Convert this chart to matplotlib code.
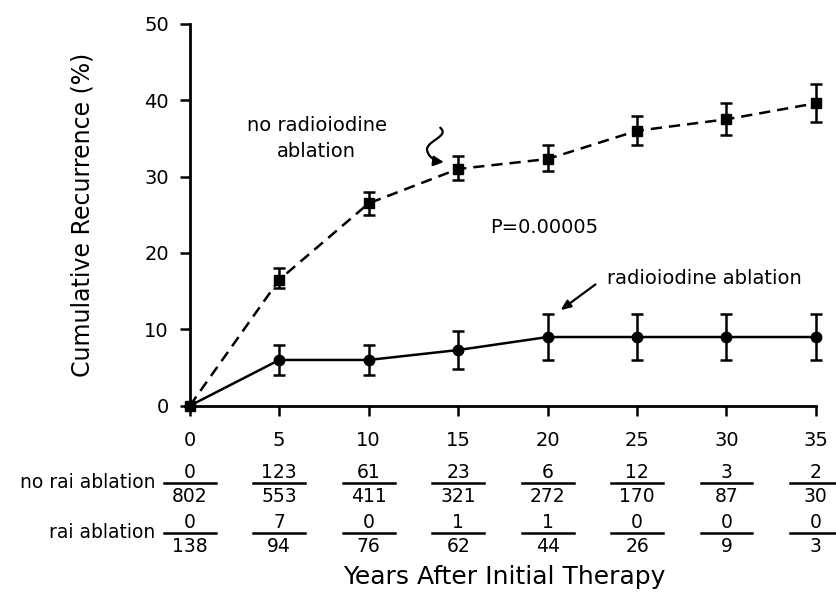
import matplotlib.pyplot as plt
from matplotlib.path import Path
from matplotlib.patches import FancyArrowPatch
from matplotlib.transforms import blended_transform_factory

years = [0, 5, 10, 15, 20, 25, 30, 35]

no_rai = [0, 16.5, 26.5, 31.0, 32.3, 36.0, 37.5, 39.6]
no_rai_lo = [0, 15.4, 25.0, 29.5, 30.7, 34.2, 35.5, 37.2]
no_rai_hi = [0, 18.0, 28.0, 32.7, 34.1, 37.9, 39.6, 42.1]

rai = [0, 6.0, 6.0, 7.3, 9.0, 9.0, 9.0, 9.0]
rai_lo = [0, 4.0, 4.0, 4.8, 6.0, 6.0, 6.0, 6.0]
rai_hi = [0, 8.0, 8.0, 9.8, 12.0, 12.0, 12.0, 12.0]

no_rai_events = ['0', '123', '61', '23', '6', '12', '3', '2']
no_rai_risk = ['802', '553', '411', '321', '272', '170', '87', '30']
rai_events = ['0', '7', '0', '1', '1', '0', '0', '0']
rai_risk = ['138', '94', '76', '62', '44', '26', '9', '3']

plt.rcParams['font.family'] = ['DejaVu Sans']

fig = plt.figure(figsize=(8.36, 5.95), dpi=100)
ax = fig.add_axes([0.227, 0.318, 0.749, 0.642])

err_no = [[v - l for v, l in zip(no_rai, no_rai_lo)], [h - v for v, h in zip(no_rai, no_rai_hi)]]
err_rai = [[v - l for v, l in zip(rai, rai_lo)], [h - v for v, h in zip(rai, rai_hi)]]
err_no[0][0] = err_no[1][0] = 0
err_rai[0][0] = err_rai[1][0] = 0

ax.errorbar(years, no_rai, yerr=err_no, color='black', linestyle=(0, (4.5, 2.8)), lw=1.8,
            marker='s', markersize=7.5, capsize=4, capthick=1.8, elinewidth=1.8, clip_on=False, zorder=3)
ax.errorbar(years, rai, yerr=err_rai, color='black', linestyle='-', lw=1.8,
            marker='o', markersize=7.5, capsize=4, capthick=1.8, elinewidth=1.8, clip_on=False, zorder=3)

ax.set_xlim(0, 35)
ax.set_ylim(0, 50)
ax.set_xticks(years)
ax.set_yticks([0, 10, 20, 30, 40, 50])
ax.spines['top'].set_visible(False)
ax.spines['right'].set_visible(False)
ax.spines['left'].set_linewidth(2)
ax.spines['bottom'].set_linewidth(2)
ax.tick_params(axis='both', length=7, width=1.8, labelsize=14)
ax.tick_params(axis='x', pad=11)
ax.tick_params(axis='y', pad=8)
ax.set_ylabel('Cumulative Recurrence (%)', fontsize=17, labelpad=36)

ax.text(7.1, 35.0, 'no radioiodine\nablation', ha='center', va='center', fontsize=14, linespacing=1.45)
ax.text(16.8, 23.3, 'P=0.00005', ha='left', va='center', fontsize=14)
ax.text(23.3, 16.6, 'radioiodine ablation', ha='left', va='center', fontsize=14)

# squiggly arrow
sq = Path([(14.0, 36.4), (14.6, 35.2), (13.0, 34.6), (13.3, 33.2), (13.4, 32.4), (13.8, 32.0), (14.2, 31.9)],
          [Path.MOVETO, Path.CURVE4, Path.CURVE4, Path.CURVE4, Path.CURVE4, Path.CURVE4, Path.CURVE4])
ax.add_patch(FancyArrowPatch(path=sq, arrowstyle='-|>,head_length=6,head_width=3', color='black', lw=1.6))
ax.annotate('', xy=(20.6, 12.3), xytext=(22.8, 16.1),
            arrowprops=dict(arrowstyle='-|>,head_length=0.6,head_width=0.25', color='black', lw=1.6))

# numbers at risk table
tr = blended_transform_factory(ax.transData, fig.transFigure)
def fy(py):
    return 1 - py / 595

rows = [(no_rai_events, no_rai_risk, 'no rai ablation', 483), (rai_events, rai_risk, 'rai ablation', 533)]
for top, bottom, label, line_y in rows:
    fig.text(155 / 836, fy(line_y), label, ha='right', va='center', fontsize=13.5)
    for x, t, b in zip(years, top, bottom):
        ax.plot([x - 1.45, x + 1.45], [fy(line_y), fy(line_y)], color='black', lw=1.8,
                transform=tr, clip_on=False)
        ax.text(x, fy(line_y - 11), t, ha='center', va='center', fontsize=13.5, transform=tr)
        ax.text(x, fy(line_y + 13), b, ha='center', va='center', fontsize=13.5, transform=tr)

fig.text(0.603, fy(577), 'Years After Initial Therapy', ha='center', va='center', fontsize=18)

fig.savefig('out.png', dpi=100)
